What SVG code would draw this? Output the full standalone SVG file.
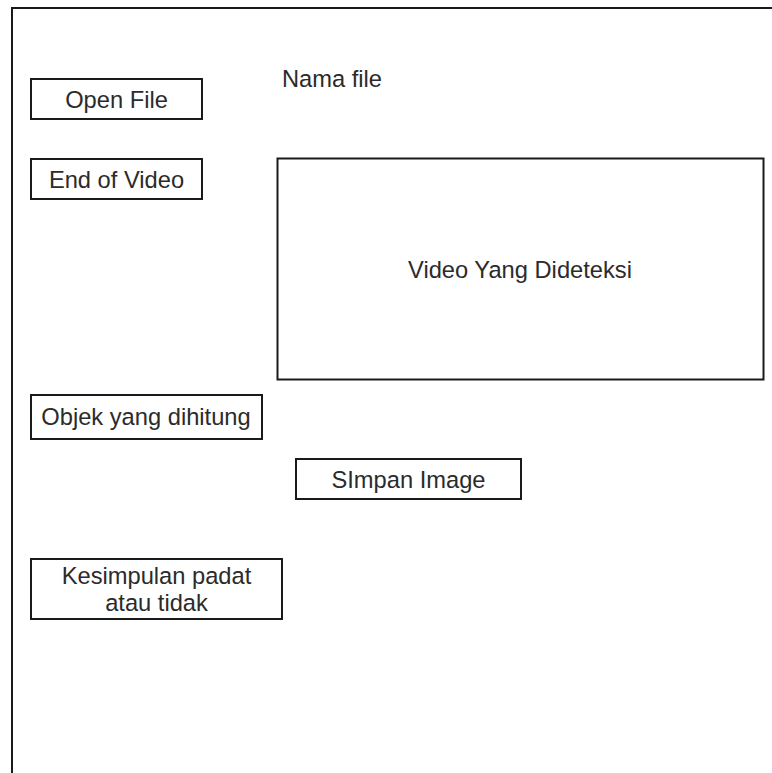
<svg xmlns="http://www.w3.org/2000/svg" width="772" height="773" viewBox="0 0 772 773">
  <style>
    .box { fill: #ffffff; stroke: #1a1a1a; stroke-width: 2; }
    .lbl { font-family: "Liberation Sans", Arial, sans-serif; font-size: 23.7px; fill: #2b2b2b; text-anchor: middle; }
  </style>
  <rect width="772" height="773" fill="#ffffff"/>
  <!-- window frame, running off the right and bottom edges -->
  <g id="frame">
    <rect class="box" x="12" y="8" width="800" height="800"/>
  </g>
  <g id="open-file">
    <rect class="box" x="31" y="79" width="171" height="40"/>
    <text class="lbl" x="116.5" y="107.5">Open File</text>
  </g>
  <g id="end-of-video">
    <rect class="box" x="31" y="159" width="171" height="40"/>
    <text class="lbl" x="116.5" y="188">End of Video</text>
  </g>
  <g id="nama-file">
    <text class="lbl" x="332" y="87">Nama file</text>
  </g>
  <g id="video">
    <rect class="box" x="277.5" y="158.5" width="486" height="221"/>
    <text class="lbl" x="520" y="278">Video Yang Dideteksi</text>
  </g>
  <g id="objek">
    <rect class="box" x="31" y="395" width="231" height="44"/>
    <text class="lbl" x="146" y="425">Objek yang dihitung</text>
  </g>
  <g id="simpan-image">
    <rect class="box" x="296" y="459" width="225" height="40"/>
    <text class="lbl" x="408.5" y="488">SImpan Image</text>
  </g>
  <g id="kesimpulan">
    <rect class="box" x="31" y="559" width="251" height="60"/>
    <text class="lbl" x="156.5" y="584">Kesimpulan padat</text>
    <text class="lbl" x="156.5" y="611">atau tidak</text>
  </g>
  <g id="connectors"/>
</svg>
